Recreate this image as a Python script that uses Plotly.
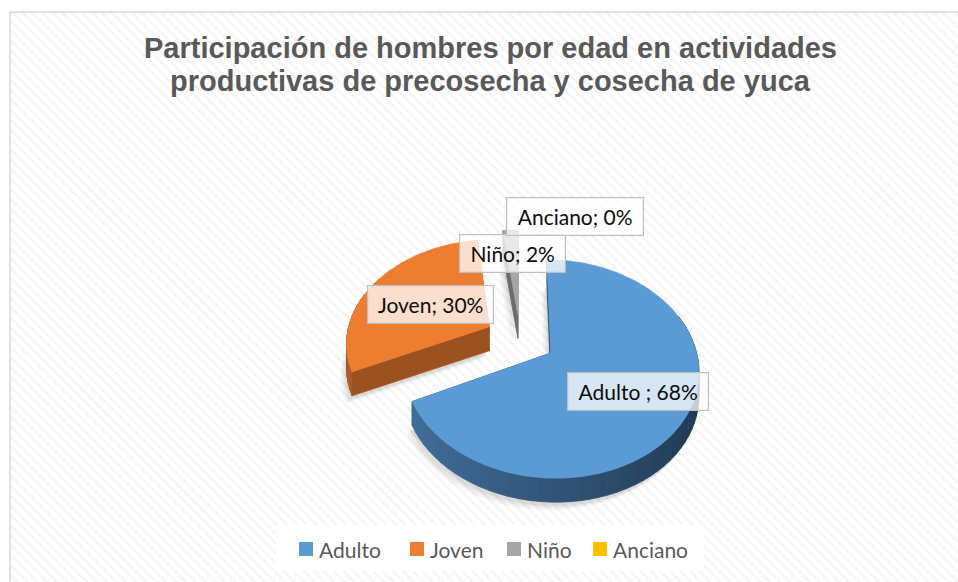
import numpy as np
import plotly.graph_objects as go

# ---------------- data ----------------
categories = ["Adulto ", "Joven", "Niño", "Anciano"]
values = [68, 30, 2, 0]
pct_labels = ["68%", "30%", "2%", "0%"]
title_lines = ["Participación de hombres por edad en actividades",
               "productivas de precosecha y cosecha de yuca"]

# ---------------- style ----------------
colors = ["#5B9BD5", "#ED7D31", "#A5A5A5", "#FFC000"]
side_dark = [(32, 56, 80), (150, 78, 30), (95, 95, 95), (150, 110, 0)]
side_light = [(66, 112, 158), (170, 90, 38), (140, 140, 140), (190, 145, 0)]

W, H = 958, 582
CX, CY = 520.0, 339.0          # pie centre (page px)
KX, KY, PERSP = 143.0, 102.86, 1 / 7
EXPLODE = 0.25
DEPTH = 24.0

# label boxes (centre x, centre y, inner width)
label_pos = [(638, 391, 132), (430.5, 304.5, 117), (512.5, 253.5, 97), (575, 216.5, 128)]
legend_x = [299, 410, 507, 593]
LEG_Y = 549


def proj(u, v, drop=0.0):
    d = 1 + PERSP * v
    return CX + KX * u / d, CY - KY * v / d + drop


def mix(i, t):
    a, b = side_dark[i], side_light[i]
    t = min(max(t, 0), 1)
    c = [round(a[k] + (b[k] - a[k]) * t) for k in range(3)]
    return f"rgb({c[0]},{c[1]},{c[2]})"


fig = go.Figure()

# chart-area background with diagonal hatch
fig.add_trace(go.Scatter(
    x=[10, 990, 990, 10, 10], y=[12, 12, 620, 620, 12],
    mode="lines", fill="toself", fillcolor="white",
    line=dict(color="#D9D9D9", width=1.5),
    fillpattern=dict(shape="\\", fgcolor="#EAEAEA", bgcolor="white", size=7, solidity=0.35),
    hoverinfo="skip", showlegend=False))


def poly(xs, ys, color):
    fig.add_trace(go.Scatter(
        x=list(xs) + [xs[0]], y=list(ys) + [ys[0]], mode="lines", fill="toself",
        fillcolor=color, line=dict(color=color, width=0.8),
        hoverinfo="skip", showlegend=False))


total = float(sum(values))
fr = np.array(values, dtype=float) / total
ends = np.cumsum(fr) * 2 * np.pi
starts = ends - fr * 2 * np.pi
mids = (starts + ends) / 2

geo = {}
for i in range(len(values)):
    if values[i] <= 0:
        continue
    t0, t1, m = starts[i], ends[i], mids[i]
    ou, ov = EXPLODE * np.sin(m), EXPLODE * np.cos(m)
    n = max(int((t1 - t0) / 0.01), 3)
    th = np.linspace(t0, t1, n)
    geo[i] = (t0, t1, ou, ov, n, th)

# soft shadows
for i, (t0, t1, ou, ov, n, th) in geo.items():
    for k, (dx, dy, a) in enumerate([(-6, 8, 0.035), (-4, 6, 0.045), (-2, 4, 0.06)]):
        bx, by = proj(ou + np.sin(th), ov + np.cos(th), DEPTH)
        wx, wy = proj(ou, ov, DEPTH)
        xs = [wx + dx] + list(bx + dx)
        ys = [wy + dy] + list(by + dy)
        fig.add_trace(go.Scatter(
            x=xs + [xs[0]], y=ys + [ys[0]], mode="lines", fill="toself",
            fillcolor=f"rgba(0,0,0,{a})", line=dict(width=0),
            hoverinfo="skip", showlegend=False))

order = sorted(geo.keys(), key=lambda i: -np.cos(mids[i]))
for i in order:
    t0, t1, ou, ov, n, th = geo[i]
    ax, ay = proj(ou + np.sin(th), ov + np.cos(th))
    bx, by = proj(ou + np.sin(th), ov + np.cos(th), DEPTH)
    vx, vy = proj(ou, ov)
    wx, wy = proj(ou, ov, DEPTH)
    # radial walls
    for t in (t0, t1):
        px, py = proj(ou + np.sin(t), ov + np.cos(t))
        qx, qy = proj(ou + np.sin(t), ov + np.cos(t), DEPTH)
        poly([vx, px, qx, wx], [vy, py, qy, wy], mix(i, 0.3))
    # outer wall, in strips
    step = 6
    for s in range(0, n - 1, step):
        e = min(s + step, n - 1)
        tm = (th[s] + th[e]) / 2
        if np.cos(tm) > 0.35:
            continue
        xs = list(ax[s:e + 1]) + list(bx[s:e + 1][::-1])
        ys = list(ay[s:e + 1]) + list(by[s:e + 1][::-1])
        poly(xs, ys, mix(i, (1 - np.sin(tm)) / 2))
    # top face
    poly([vx] + list(ax), [vy] + list(ay), colors[i])

# ---------------- annotations ----------------
ann = []
for k, line in enumerate(title_lines):
    ann.append(dict(x=490, y=48 + 33 * k, xref="x", yref="y", text=f"<b>{line}</b>",
                    showarrow=False, xanchor="center", yanchor="middle",
                    font=dict(family="Liberation Sans, Arial", size=29, color="#595959")))

for i, cat in enumerate(categories):
    cx, cy, wdt = label_pos[i]
    ann.append(dict(x=cx, y=cy, xref="x", yref="y", text=f"{cat}; {pct_labels[i]}",
                    showarrow=False, xanchor="center", yanchor="middle",
                    width=wdt, height=29, borderpad=4, align="center",
                    bgcolor="rgba(255,255,255,0.75)", bordercolor="#BFBFBF", borderwidth=1.2,
                    font=dict(family="Lato", size=21, color="#0D0D0D")))

shapes = [dict(type="rect", xref="x", yref="y", x0=276, x1=704, y0=525, y1=571,
               fillcolor="white", line=dict(width=0), layer="above")]
for i, cat in enumerate(categories):
    x0 = legend_x[i]
    shapes.append(dict(type="rect", xref="x", yref="y", x0=x0, x1=x0 + 14,
                       y0=LEG_Y - 7, y1=LEG_Y + 7, fillcolor=colors[i],
                       line=dict(width=0), layer="above"))
    ann.append(dict(x=x0 + 18, y=LEG_Y, xref="x", yref="y", text=cat.strip(),
                    showarrow=False, xanchor="left", yanchor="middle",
                    font=dict(family="Lato", size=21, color="#595959")))

fig.update_layout(
    width=W, height=H, margin=dict(l=0, r=0, t=0, b=0, pad=0),
    paper_bgcolor="white", plot_bgcolor="white",
    xaxis=dict(range=[0, W], visible=False, fixedrange=True),
    yaxis=dict(range=[H, 0], visible=False, fixedrange=True),
    showlegend=False, annotations=ann, shapes=shapes)

fig.write_html("out.html", config={"displayModeBar": False},
               post_script="document.body.style.margin='0';document.body.style.overflow='hidden';")
